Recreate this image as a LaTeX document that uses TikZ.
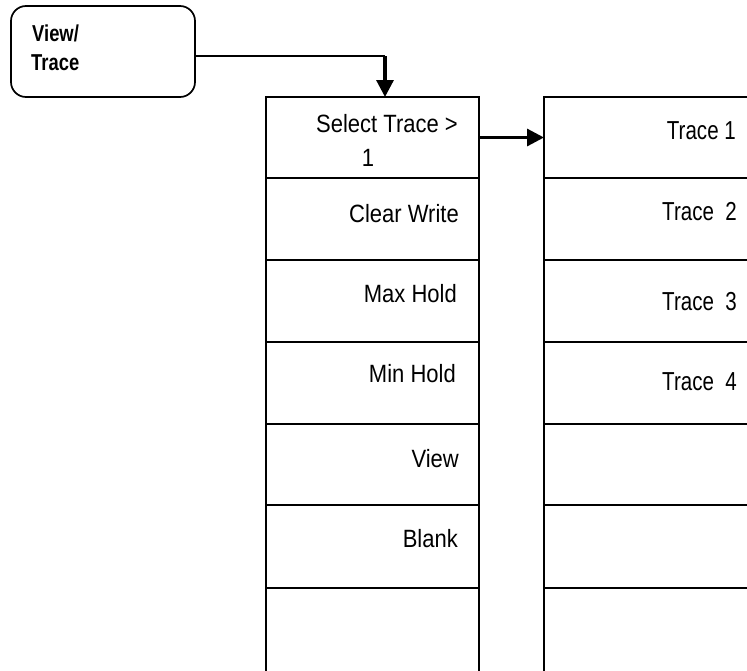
\documentclass[tikz,border=0pt]{standalone}
\usepackage{fontspec}
\setmainfont{Liberation Sans}
\newfontfamily\leftfont[FakeStretch=0.88]{Liberation Sans}
\newfontfamily\rightfont[FakeStretch=0.79]{Liberation Sans}
\newfontfamily\keyfont[FakeStretch=0.8]{Liberation Sans}
\usetikzlibrary{arrows.meta}
\begin{document}
\begin{tikzpicture}[x=1pt,y=-1pt,
  lcell/.style={draw, line width=2pt, rectangle, minimum width=213pt, anchor=north west, inner sep=0pt, outer sep=0pt},
  rcell/.style={draw, line width=2pt, rectangle, minimum width=260pt, anchor=north west, inner sep=0pt, outer sep=0pt},
  ltext/.style={anchor=base east, inner sep=0pt, font=\leftfont\fontsize{25}{30}\selectfont},
  rtext/.style={anchor=base east, inner sep=0pt, font=\rightfont\fontsize{26}{30}\selectfont},
  ktext/.style={anchor=base west, inner sep=0pt, font=\keyfont\bfseries\fontsize{23}{29}\selectfont},
  keybox/.style={draw, line width=1.7pt, rounded corners=15pt, minimum width=184pt, minimum height=91pt, anchor=north west, inner sep=0pt, outer sep=0pt},
  thin conn/.style={line width=1.4pt},
  thick conn/.style={line width=3.2pt, -{Triangle[length=17pt,width=17pt]}}
]
\useasboundingbox (0,0) rectangle (747,670);

% key box
\node[keybox] (view) at (11,6) {};
\node[ktext] (vt1) at (32,41) {View/};
\node[ktext] (vt2) at (31,70) {Trace};

% left column
\node[lcell, minimum height=81pt] (l1) at (266,97) {};
\node[lcell, minimum height=82pt] (l2) at (266,178) {};
\node[lcell, minimum height=82pt] (l3) at (266,260) {};
\node[lcell, minimum height=82pt] (l4) at (266,342) {};
\node[lcell, minimum height=81pt] (l5) at (266,424) {};
\node[lcell, minimum height=83pt] (l6) at (266,505) {};
\node[lcell, minimum height=100pt] (l7) at (266,588) {};

% right column
\node[rcell, minimum height=81pt] (r1) at (544,97) {};
\node[rcell, minimum height=82pt] (r2) at (544,178) {};
\node[rcell, minimum height=82pt] (r3) at (544,260) {};
\node[rcell, minimum height=82pt] (r4) at (544,342) {};
\node[rcell, minimum height=81pt] (r5) at (544,424) {};
\node[rcell, minimum height=83pt] (r6) at (544,505) {};
\node[rcell, minimum height=100pt] (r7) at (544,588) {};

% left texts
\node[ltext] (tsel) at (458,132) {Select Trace >};
\node[ltext, anchor=base] (tsel1) at (368,166) {1};
\node[ltext] (tcw) at (459,222) {Clear Write};
\node[ltext] (tmax) at (457,302) {Max Hold};
\node[ltext] (tmin) at (456,382) {Min Hold};
\node[ltext] (tview) at (459,467) {View};
\node[ltext] (tblank) at (458,547) {Blank};

% right texts
\node[rtext] (tr1) at (736,139) {Trace 1};
\node[rtext] (tr2) at (737,220) {Trace\ \ 2};
\node[rtext] (tr3) at (737,310) {Trace\ \ 3};
\node[rtext] (tr4) at (737,390) {Trace\ \ 4};

% connectors
\coordinate (bend) at (385,56);
\draw[thin conn] (view.east |- bend) -- (bend);
\draw[thick conn] (bend) -- (bend |- l1.north);
\draw[thick conn] (l1.east) -- (l1.east -| r1.west);
\end{tikzpicture}
\end{document}
